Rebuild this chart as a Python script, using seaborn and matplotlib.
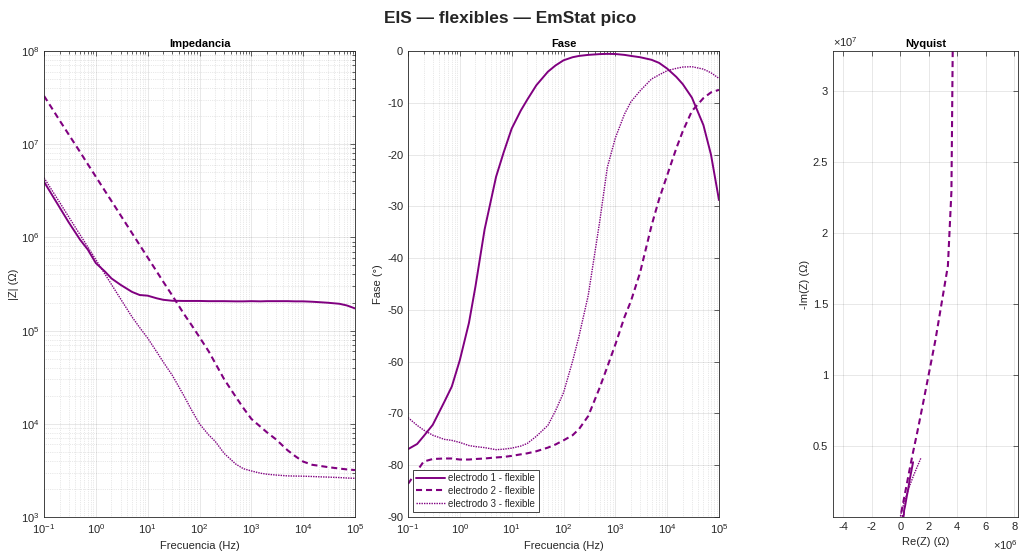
import numpy as np
import pandas as pd
import matplotlib
matplotlib.use("Agg")
import matplotlib.pyplot as plt
import seaborn as sns
from matplotlib.ticker import LogLocator, NullFormatter, FixedLocator, FuncFormatter

# ---------------- data ----------------
freq_hz = [0.1, 0.15, 0.2, 0.3, 0.5, 0.7, 1, 1.5, 2, 3, 5, 7, 10, 15, 20, 30, 50, 70,
           100, 150, 200, 300, 500, 700, 1e3, 1.5e3, 2e3, 3e3, 5e3, 7e3, 1e4, 1.5e4,
           2e4, 3e4, 5e4, 7e4, 1e5]

zmod_e1 = [3.96e6, 2.73e6, 2.1e6, 1.45e6, 9.4e5, 7.4e5, 5.3e5, 4.3e5, 3.63e5, 3.1e5,
           2.6e5, 2.41e5, 2.37e5, 2.22e5, 2.14e5, 2.09e5, 2.08e5, 2.08e5, 2.08e5, 2.07e5,
           2.07e5, 2.07e5, 2.06e5, 2.06e5, 2.07e5, 2.06e5, 2.07e5, 2.07e5, 2.07e5, 2.06e5,
           2.06e5, 2.04e5, 2.02e5, 1.99e5, 1.94e5, 1.86e5, 1.73e5]
zmod_e2 = [3.3e7, 2.32e7, 1.80e7, 1.27e7, 8.2e6, 6.1e6, 4.48e6, 3.15e6, 2.46e6, 1.73e6,
           1.11e6, 8.3e5, 6.1e5, 4.29e5, 3.34e5, 2.37e5, 1.51e5, 1.15e5, 8.5e4, 6.0e4,
           4.5e4, 3.0e4, 1.95e4, 1.48e4, 1.13e4, 9.3e3, 8.1e3, 6.8e3, 5.2e3, 4.5e3,
           3.93e3, 3.63e3, 3.55e3, 3.43e3, 3.31e3, 3.24e3, 3.19e3]
zmod_e3 = [4.37e6, 3.06e6, 2.38e6, 1.66e6, 1.06e6, 7.9e5, 5.77e5, 4.04e5, 3.13e5, 2.19e5,
           1.40e5, 1.08e5, 8.3e4, 5.9e4, 4.6e4, 3.3e4, 2.0e4, 1.41e4, 1.0e4, 7.6e3,
           6.5e3, 4.8e3, 3.7e3, 3.3e3, 3.12e3, 2.95e3, 2.88e3, 2.82e3, 2.76e3, 2.75e3,
           2.74e3, 2.72e3, 2.70e3, 2.68e3, 2.65e3, 2.62e3, 2.60e3]

phase_e1 = [-76.9, -75.9, -74.4, -72.2, -67.8, -64.8, -59.7, -52.5, -45.5, -34.5,
            -24.3, -19.6, -15.0, -11.5, -9.4, -6.6, -4.0, -2.8, -1.8, -1.2,
            -0.95, -0.75, -0.6, -0.55, -0.58, -0.75, -0.95, -1.2, -1.7, -2.3,
            -3.4, -5.0, -6.4, -9.0, -14.3, -20.0, -28.8]
phase_e2 = [-83.6, -81.1, -79.3, -78.8, -78.7, -78.7, -78.9, -78.9, -78.8, -78.7,
            -78.5, -78.4, -78.2, -77.9, -77.7, -77.3, -76.6, -76.0, -75.2, -74.2,
            -73.0, -70.5, -65.0, -61.0, -56.7, -51.4, -48.3, -42.8, -33.7, -28.6,
            -24.0, -18.8, -15.5, -11.6, -9.1, -8.0, -7.5]
phase_e3 = [-70.8, -72.3, -73.2, -74.2, -75.0, -75.2, -75.6, -76.2, -76.4, -76.6,
            -77.0, -76.9, -76.7, -76.3, -75.8, -74.4, -72.3, -69.5, -66.0, -59.9,
            -55.0, -47.2, -32.9, -22.5, -16.8, -12.2, -9.8, -7.7, -5.4, -4.6,
            -3.8, -3.35, -3.1, -3.03, -3.5, -4.2, -5.3]

labels = ["electrodo 1 - flexible", "electrodo 2 - flexible", "electrodo 3 - flexible"]
zmods = [zmod_e1, zmod_e2, zmod_e3]
phases = [phase_e1, phase_e2, phase_e3]

freq_ticks = [0.1, 1, 10, 100, 1e3, 1e4, 1e5]
zmod_ticks = [1e3, 1e4, 1e5, 1e6, 1e7, 1e8]
phase_ticks = [-90, -80, -70, -60, -50, -40, -30, -20, -10, 0]
re_ticks = [-4e6, -2e6, 0, 2e6, 4e6, 6e6, 8e6]
negim_ticks = [0.5e7, 1e7, 1.5e7, 2e7, 2.5e7, 3e7]

frames = []
for lab, zm, ph in zip(labels, zmods, phases):
    zm = np.asarray(zm, float)
    ph = np.asarray(ph, float)
    frames.append(pd.DataFrame({
        "freq": freq_hz, "zmod": zm, "phase": ph,
        "re": zm * np.cos(np.deg2rad(ph)),
        "negim": -zm * np.sin(np.deg2rad(ph)),
        "electrodo": lab}))
df = pd.concat(frames, ignore_index=True)

# ---------------- style ----------------
sns.set_style("white")
plt.rcParams.update({
    "font.family": ["Liberation Sans", "DejaVu Sans"],
    "axes.unicode_minus": False,
    "mathtext.default": "regular",
})

PURPLE = "#800080"
DARK = "#262626"
line_styles = {
    labels[0]: dict(linestyle="-", lw=1.4),
    labels[1]: dict(linestyle=(0, (2.9, 1.9)), lw=1.5),
    labels[2]: dict(linestyle=(0, (1, 0.8)), lw=1.0),
}

W, H = 1021, 555
fig = plt.figure(figsize=(W / 100, H / 100), dpi=100)

def px_axes(x0, x1, y0, y1):
    return fig.add_axes([x0 / W, 1 - y1 / H, (x1 - x0) / W, (y1 - y0) / H])

ax_z = px_axes(44, 355, 51, 517)
ax_p = px_axes(408, 719, 51, 517)
ax_n = px_axes(833, 1018, 51, 517)


def style_axes(ax, minor_grid=True):
    for s in ax.spines.values():
        s.set_color(DARK)
        s.set_linewidth(0.6)
    ax.tick_params(which="both", direction="in", top=True, right=True,
                   colors=DARK, labelcolor=DARK, labelsize=8, width=0.5)
    ax.tick_params(which="major", length=3.5)
    ax.tick_params(which="minor", length=2)
    ax.grid(True, which="major", color=DARK, alpha=0.15, lw=0.5)
    if minor_grid:
        ax.grid(True, which="minor", color=DARK, alpha=0.2, lw=0.5, linestyle=":")
    ax.set_axisbelow(True)


def pow10(v, pos):
    return r"$10^{%d}$" % int(round(np.log10(v)))


for lab in labels:
    d = df[df["electrodo"] == lab]
    st = line_styles[lab]
    sns.lineplot(data=d, x="freq", y="zmod", ax=ax_z, color=PURPLE, sort=False,
                 estimator=None, linestyle=st["linestyle"], lw=st["lw"], legend=False)
    sns.lineplot(data=d, x="freq", y="phase", ax=ax_p, color=PURPLE, sort=False,
                 estimator=None, linestyle=st["linestyle"], lw=st["lw"], label=lab)
    sns.lineplot(data=d, x="re", y="negim", ax=ax_n, color=PURPLE, sort=False,
                 estimator=None, linestyle=st["linestyle"], lw=st["lw"], legend=False)

minor_subs = np.arange(2, 10)

# Impedance panel
ax_z.set_xscale("log")
ax_z.set_yscale("log")
ax_z.set_xlim(0.1, 1e5)
ax_z.set_ylim(1e3, 1e8)
ax_z.xaxis.set_major_locator(FixedLocator(freq_ticks))
ax_z.yaxis.set_major_locator(FixedLocator(zmod_ticks))
for axis in (ax_z.xaxis, ax_z.yaxis):
    axis.set_major_formatter(FuncFormatter(pow10))
    axis.set_minor_locator(LogLocator(base=10, subs=minor_subs, numticks=100))
    axis.set_minor_formatter(NullFormatter())
style_axes(ax_z)
ax_z.set_title("Impedancia", fontsize=8, fontweight="bold", color="black", pad=3)
ax_z.set_xlabel("Frecuencia (Hz)", fontsize=8, color=DARK, labelpad=4)
ax_z.set_ylabel("|Z| (Ω)", fontsize=8, color=DARK, labelpad=1)

# Phase panel
ax_p.set_xscale("log")
ax_p.set_xlim(0.1, 1e5)
ax_p.set_ylim(-90, 0)
ax_p.xaxis.set_major_locator(FixedLocator(freq_ticks))
ax_p.xaxis.set_major_formatter(FuncFormatter(pow10))
ax_p.xaxis.set_minor_locator(LogLocator(base=10, subs=minor_subs, numticks=100))
ax_p.xaxis.set_minor_formatter(NullFormatter())
ax_p.yaxis.set_major_locator(FixedLocator(phase_ticks))
ax_p.yaxis.set_major_formatter(FuncFormatter(lambda v, p: "%d" % v))
style_axes(ax_p)
ax_p.set_title("Fase", fontsize=8, fontweight="bold", color="black", pad=3)
ax_p.set_xlabel("Frecuencia (Hz)", fontsize=8, color=DARK, labelpad=4)
ax_p.set_ylabel("Fase (°)", fontsize=8, color=DARK, labelpad=3)
leg = ax_p.legend(loc="lower left", fontsize=7, frameon=True, fancybox=False,
                  edgecolor=DARK, framealpha=1, handlelength=3.0, handletextpad=0.3,
                  borderpad=0.35, labelspacing=0.3, borderaxespad=0.5)
leg.get_frame().set_linewidth(0.6)

# Nyquist panel
ax_n.set_xlim(-4.72e6, 8.26e6)
ax_n.set_ylim(0, 3.28e7)
ax_n.xaxis.set_major_locator(FixedLocator(re_ticks))
ax_n.yaxis.set_major_locator(FixedLocator(negim_ticks))
ax_n.xaxis.set_major_formatter(FuncFormatter(lambda v, p: "%g" % (v / 1e6)))
ax_n.yaxis.set_major_formatter(FuncFormatter(lambda v, p: "%g" % (v / 1e7)))
style_axes(ax_n, minor_grid=False)
ax_n.set_title("Nyquist", fontsize=8, fontweight="bold", color="black", pad=3)
ax_n.set_xlabel("Re(Z) (Ω)", fontsize=8, color=DARK, labelpad=4)
ax_n.set_ylabel("-Im(Z) (Ω)", fontsize=8, color=DARK, labelpad=2)
ax_n.text(0.0, 1.005, r"$\times10^{7}$", transform=ax_n.transAxes, fontsize=8,
          color=DARK, ha="left", va="bottom")
ax_n.text(1.0, -0.045, r"$\times10^{6}$", transform=ax_n.transAxes, fontsize=8,
          color=DARK, ha="right", va="top")

fig.suptitle("EIS — flexibles — EmStat pico", fontsize=12.5, fontweight="bold",
             y=1 - 18 / H, va="center")

fig.savefig("out.png", dpi=100)
